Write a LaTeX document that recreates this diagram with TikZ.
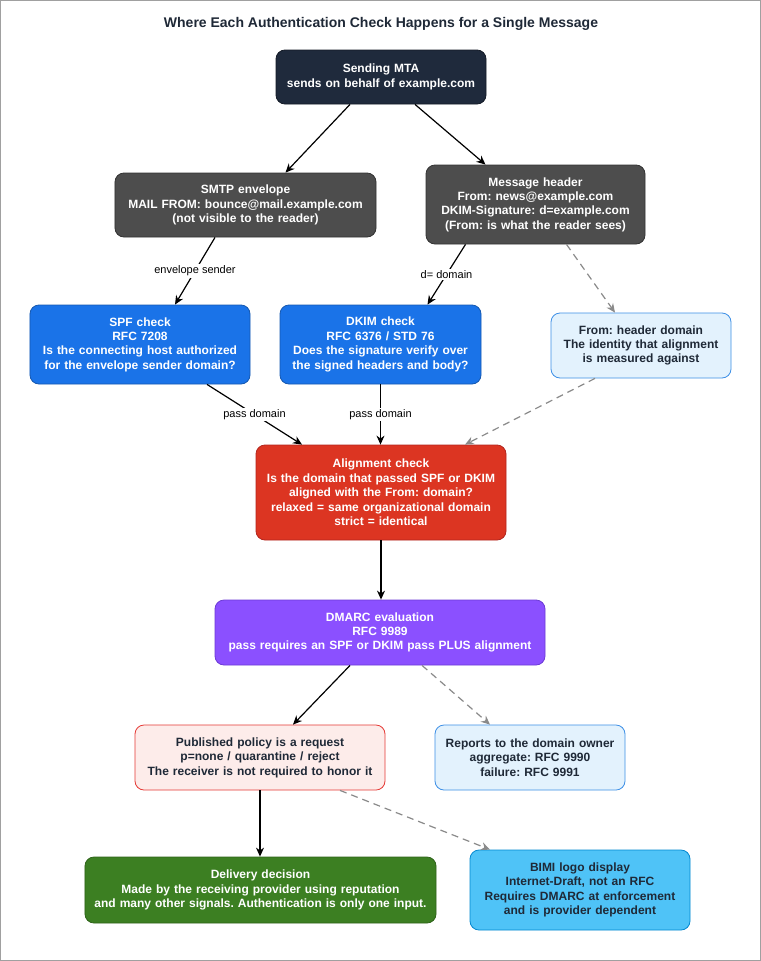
\documentclass[tikz,border=0pt]{standalone}
\usepackage{fontspec}
\setmainfont{Liberation Sans}
\usetikzlibrary{arrows.meta}
\frenchspacing
\definecolor{titlec}{HTML}{1F2937}
\definecolor{navy}{HTML}{1F2A3C}
\definecolor{navyb}{HTML}{141B27}
\definecolor{graybox}{HTML}{4D4D4D}
\definecolor{grayb}{HTML}{333333}
\definecolor{blue1}{HTML}{1A73E8}
\definecolor{blue1b}{HTML}{1558B0}
\definecolor{lightb}{HTML}{E3F2FD}
\definecolor{lightbb}{HTML}{3D8FE6}
\definecolor{red1}{HTML}{DC3522}
\definecolor{red1b}{HTML}{B3261E}
\definecolor{purp}{HTML}{8B50FF}
\definecolor{purpb}{HTML}{6C3AD6}
\definecolor{pink1}{HTML}{FDECEA}
\definecolor{pinkb}{HTML}{E53935}
\definecolor{green1}{HTML}{3C7F22}
\definecolor{green1b}{HTML}{2E6319}
\definecolor{sky}{HTML}{4FC3F7}
\definecolor{skyb}{HTML}{0288D1}
\definecolor{dashc}{HTML}{8A8A8A}
\definecolor{framec}{HTML}{A0A0A0}
\tikzset{
  box/.style n args={2}{draw, rounded corners=9bp, line width=0.8bp, inner sep=0pt,
    minimum width=#1, minimum height=#2, text width=#1, align=center,
    font=\fontsize{12bp}{14.4bp}\selectfont\bfseries\frenchspacing},
  darkbox/.style={text=white},
  lightbox/.style={text=titlec},
  arr/.style={draw=black, line width=1.2bp, -{Stealth[length=9bp,width=8bp]}},
  darr/.style={draw=dashc, line width=1.2bp, dash pattern=on 7bp off 5bp, -{Stealth[length=9bp,width=8bp]}},
  elabel/.style={fill=white, inner sep=1.5bp, font=\fontsize{11bp}{13bp}\selectfont, text=black}
}
\begin{document}
\begin{tikzpicture}[x=1bp,y=-1bp]
\useasboundingbox (0,0) rectangle (761,961);
\fill[white] (0,0) rectangle (761,961);
\draw[framec, line width=1bp] (0.5,0.5) rectangle (760.5,960.5);

\node[font=\fontsize{14bp}{16bp}\selectfont\bfseries, text=titlec] (title) at (381,23.5) {Where Each Authentication Check Happens for a Single Message};

\node[box={210bp}{54bp}, darkbox, fill=navy, draw=navyb] (mta) at (381,77) {Sending MTA\\sends on behalf of example.com};
\node[box={261bp}{64bp}, darkbox, fill=graybox, draw=grayb] (smtp) at (245.5,205) {SMTP envelope\\MAIL FROM: bounce@mail.example.com\\(not visible to the reader)};
\node[box={219bp}{79bp}, darkbox, fill=graybox, draw=grayb] (hdr) at (535.5,204.5) {Message header\\From: news@example.com\\DKIM-Signature: d=example.com\\(From: is what the reader sees)};
\node[box={220bp}{79bp}, darkbox, fill=blue1, draw=blue1b] (spf) at (140,344.5) {SPF check\\RFC 7208\\Is the connecting host authorized\\for the envelope sender domain?};
\node[box={201bp}{79bp}, darkbox, fill=blue1, draw=blue1b] (dkim) at (380.5,344.5) {DKIM check\\RFC 6376 / STD 76\\Does the signature verify over\\the signed headers and body?};
\node[box={180bp}{65bp}, lightbox, fill=lightb, draw=lightbb] (from) at (641,345.5) {From: header domain\\The identity that alignment\\is measured against};
\node[box={250bp}{95bp}, darkbox, fill=red1, draw=red1b] (align) at (381,492.5) {Alignment check\\Is the domain that passed SPF or DKIM\\aligned with the From: domain?\\relaxed = same organizational domain\\strict = identical};
\node[box={330bp}{65bp}, darkbox, fill=purp, draw=purpb] (dmarc) at (380,632.5) {DMARC evaluation\\RFC 9989\\pass requires an SPF or DKIM pass PLUS alignment};
\node[box={250bp}{65bp}, lightbox, fill=pink1, draw=pinkb] (policy) at (260,757.5) {Published policy is a request\\p=none / quarantine / reject\\The receiver is not required to honor it};
\node[box={190bp}{65bp}, lightbox, fill=lightb, draw=lightbb] (reports) at (530,757.5) {Reports to the domain owner\\aggregate: RFC 9990\\failure: RFC 9991};
\node[box={351bp}{66bp}, darkbox, fill=green1, draw=green1b] (deliv) at (260.5,890) {Delivery decision\\Made by the receiving provider using reputation\\and many other signals. Authentication is only one input.};
\node[box={220bp}{80bp}, lightbox, fill=sky, draw=skyb] (bimi) at (580,890) {BIMI logo display\\Internet-Draft, not an RFC\\Requires DMARC at enforcement\\and is provider dependent};

\draw[arr] ([xshift=-31bp]mta.south) -- ([xshift=40bp]smtp.north);
\draw[arr] ([xshift=34bp]mta.south) -- ([xshift=-50bp]hdr.north);
\draw[arr] ([xshift=-30.5bp]smtp.south) -- node[elabel]{envelope sender} ([xshift=35bp]spf.north);
\draw[arr] ([xshift=-70bp]hdr.south) -- node[elabel]{d= domain} ([xshift=47bp]dkim.north);
\draw[darr] ([xshift=31bp]hdr.south) -- ([xshift=-26bp]from.north);
\draw[arr] ([xshift=67bp]spf.south) -- node[elabel]{pass domain} ([xshift=-79bp]align.north);
\draw[arr] (dkim.south) -- node[elabel]{pass domain} (dkim.south |- align.north);
\draw[darr] ([xshift=-46bp]from.south) -- ([xshift=84bp]align.north);
\draw[arr] (align.south) -- (align.south |- dmarc.north);
\draw[arr] ([xshift=-30bp]dmarc.south) -- ([xshift=33bp]policy.north);
\draw[darr] ([xshift=42bp]dmarc.south) -- ([xshift=-40bp]reports.north);
\draw[arr] (policy.south) -- (policy.south |- deliv.north);
\draw[darr] ([xshift=80bp]policy.south) -- ([xshift=-90bp]bimi.north);
\end{tikzpicture}
\end{document}
